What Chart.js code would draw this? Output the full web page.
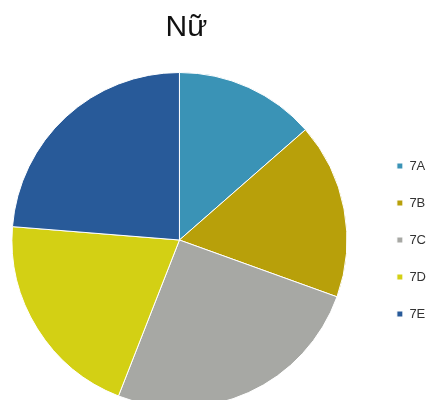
<!DOCTYPE html>
<html lang="vi">
<head>
<meta charset="utf-8">
<title>Nữ</title>
<script src="https://cdn.jsdelivr.net/npm/chart.js@4/dist/chart.umd.min.js"></script>
<style>
  html, body { margin: 0; padding: 0; background: #fff; overflow: hidden; }
  #wrap { width: 436px; height: 410px; position: relative; }
</style>
</head>
<body>
<div id="wrap"><canvas id="myChart"></canvas></div>
<script>
// lop va so hoc sinh nu
const lop = ['7A', '7B', '7C', '7D', '7E'];
const soNu = [8, 10, 15, 12, 14];
const mau = ['#3a93b6', '#b8a00a', '#a7a8a4', '#d3d014', '#285a99'];

// day hinh tron sang trai mot chut, tieu de giu nguyen
const dichTrai = {
    id: 'dichTrai',
    afterLayout(chart) {
        const d = 14;
        chart.chartArea.left -= d;
        chart.chartArea.width += d;
    }
};

const ctx = document.getElementById('myChart');

new Chart(ctx, {
    type: 'pie',
    data: {
        labels: lop,
        datasets: [{
            data: soNu,
            backgroundColor: mau,
            borderColor: '#ffffff',
            borderWidth: 1
        }]
    },
    options: {
        responsive: true,
        maintainAspectRatio: false,
        animation: false,
        layout: {
            padding: { left: 0, right: 0, top: 0, bottom: 2 }
        },
        plugins: {
            title: {
                display: true,
                text: 'Nữ',
                fullSize: false,
                color: '#111',
                font: { family: 'Liberation Sans', size: 30, weight: 'normal', lineHeight: 1.2 },
                padding: { top: 10, bottom: 26 }
            },
            legend: {
                position: 'right',
                align: 'center',
                fullSize: false,
                labels: {
                    boxWidth: 6,
                    boxHeight: 6,
                    padding: 24,
                    color: '#333',
                    font: { family: 'Liberation Sans', size: 13 }
                }
            },
            tooltip: { enabled: false }
        }
    },
    plugins: [dichTrai]
});
</script>
</body>
</html>
